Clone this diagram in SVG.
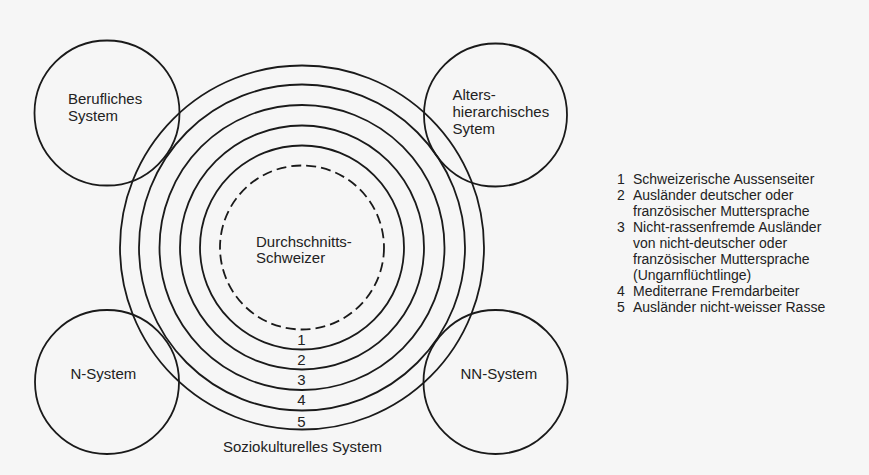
<svg xmlns="http://www.w3.org/2000/svg" width="869" height="475" viewBox="0 0 869 475">
<style>
.ring{fill:none;stroke:#1a1a1a;stroke-width:1.8}
.dash{fill:none;stroke:#1a1a1a;stroke-width:1.8;stroke-dasharray:10 5}
.lbl{font-family:"Liberation Sans",Arial,sans-serif;font-size:15px;fill:#222}
.num{font-family:"Liberation Sans",Arial,sans-serif;font-size:15px;fill:#222;text-anchor:middle}
.leg{font-family:"Liberation Sans",Arial,sans-serif;font-size:14px;fill:#222}
</style>
<rect x="0" y="0" width="869" height="475" fill="#f6f6f6"/>
<g id="soziokulturelles-system">
<circle class="ring" cx="302" cy="247.5" r="182"/>
<circle class="ring" cx="302" cy="247.5" r="163"/>
<circle class="ring" cx="302" cy="247.5" r="142.5"/>
<circle class="ring" cx="302" cy="247.5" r="122"/>
<circle class="ring" cx="302" cy="247.5" r="102"/>
<circle class="dash" cx="302" cy="247.5" r="82"/>
<text class="lbl" x="256" y="246.5">Durchschnitts-</text>
<text class="lbl" x="256" y="262.5">Schweizer</text>
<text class="num" x="301.5" y="345">1</text>
<text class="num" x="301.5" y="365">2</text>
<text class="num" x="301.5" y="385">3</text>
<text class="num" x="301.5" y="405">4</text>
<text class="num" x="301.5" y="426.5">5</text>
<text class="lbl" x="302.5" y="451.5" text-anchor="middle">Soziokulturelles System</text>
</g>
<g id="berufliches-system">
<circle class="ring" cx="107" cy="113" r="72.5"/>
<text class="lbl" x="68" y="103.5">Berufliches</text>
<text class="lbl" x="68" y="121">System</text>
</g>
<g id="altershierarchisches-system">
<circle class="ring" cx="495.5" cy="115" r="71.5"/>
<text class="lbl" x="452.5" y="99.5">Alters-</text>
<text class="lbl" x="452.5" y="116.5">hierarchisches</text>
<text class="lbl" x="452.5" y="133.5">Sytem</text>
</g>
<g id="n-system">
<circle class="ring" cx="107" cy="382" r="72"/>
<text class="lbl" x="70.5" y="378.5">N-System</text>
</g>
<g id="nn-system">
<circle class="ring" cx="495.5" cy="382" r="72"/>
<text class="lbl" x="460.5" y="379">NN-System</text>
</g>
<g id="connectors"></g>
<g id="legend">
<text class="leg" x="617" y="183.5">1</text>
<text class="leg" x="633" y="183.5">Schweizerische Aussenseiter</text>
<text class="leg" x="617" y="199.5">2</text>
<text class="leg" x="633" y="199.5">Ausländer deutscher oder</text>
<text class="leg" x="633" y="215.5">französischer Muttersprache</text>
<text class="leg" x="617" y="231.5">3</text>
<text class="leg" x="633" y="231.5">Nicht-rassenfremde Ausländer</text>
<text class="leg" x="633" y="247.5">von nicht-deutscher oder</text>
<text class="leg" x="633" y="263.5">französischer Muttersprache</text>
<text class="leg" x="633" y="279.5">(Ungarnflüchtlinge)</text>
<text class="leg" x="617" y="295.5">4</text>
<text class="leg" x="633" y="295.5">Mediterrane Fremdarbeiter</text>
<text class="leg" x="617" y="311.5">5</text>
<text class="leg" x="633" y="311.5">Ausländer nicht-weisser Rasse</text>
</g>
</svg>
